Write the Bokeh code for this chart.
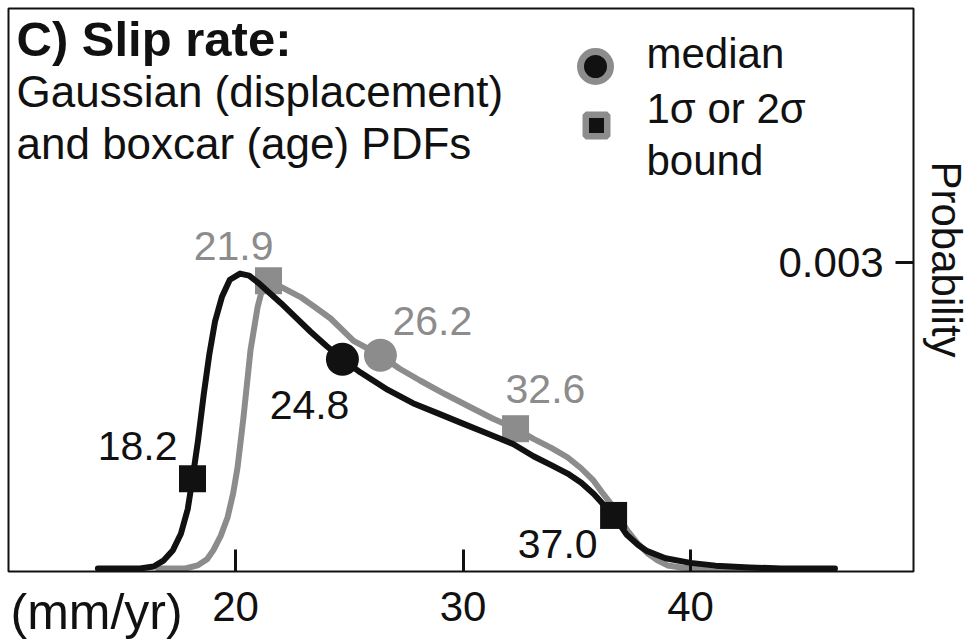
import numpy as np
from bokeh.plotting import figure
from bokeh.models import ColumnDataSource, FixedTicker, Label, Range1d, BoxAnnotation
from bokeh.core.properties import value
from bokeh.embed import file_html
from bokeh.resources import INLINE

# ---- data (probability in units of 1e-3) ----
black_x = [13.95, 15.8, 16.4, 16.85, 17.25, 17.6, 17.9, 18.11, 18.35, 18.6, 18.85, 19.1, 19.4,
           19.75, 20.2, 20.6, 21.0, 21.5, 22.0, 22.6, 23.3, 24.0, 24.7, 25.5, 26.7, 27.8,
           28.9, 30.0, 31.1, 32.2, 33.1, 33.9, 34.6, 35.2, 35.75, 36.2, 36.62, 37.2, 37.7,
           38.1, 38.9, 40.0, 41.1, 42.6, 44.0, 46.35]
black_y = [0.0, 0.0, 0.02, 0.08, 0.18, 0.34, 0.58, 0.88, 1.25, 1.70, 2.10, 2.42, 2.66,
           2.83, 2.89, 2.87, 2.80, 2.70, 2.60, 2.47, 2.32, 2.18, 2.05, 1.92, 1.75, 1.62,
           1.52, 1.42, 1.32, 1.22, 1.10, 1.01, 0.93, 0.84, 0.73, 0.62, 0.52, 0.33, 0.23,
           0.17, 0.10, 0.055, 0.028, 0.01, 0.0, 0.0]
gray_x = [16.6, 17.8, 18.33, 18.75, 19.03, 19.35, 19.65, 19.9, 20.09, 20.35, 20.66, 20.97,
          21.2, 21.45, 22.0, 22.86, 23.5, 24.18, 25.19, 26.37, 27.2, 28.13, 29.2, 30.33,
          31.3, 32.31, 33.1, 33.9, 34.59, 35.2, 35.74, 36.1, 36.48, 36.85, 37.23, 37.7,
          38.11, 38.55, 38.99, 39.6, 40.44, 43.5]
gray_y = [0.0, 0.0, 0.03, 0.09, 0.18, 0.32, 0.50, 0.74, 0.99, 1.48, 2.14, 2.56,
          2.76, 2.82, 2.76, 2.66, 2.56, 2.45, 2.23, 2.09, 1.96, 1.84, 1.71, 1.58,
          1.47, 1.37, 1.27, 1.18, 1.09, 0.98, 0.86, 0.75, 0.64, 0.50, 0.37, 0.24,
          0.15, 0.08, 0.03, 0.01, 0.0, 0.0]

black_bound_x = [18.11, 36.62]
black_bound_lbl = ["18.2", "37.0"]
black_median_x = [24.7]
black_median_lbl = ["24.8"]
gray_bound_x = [21.45, 32.31]
gray_bound_lbl = ["21.9", "32.6"]
gray_median_x = [26.37]
gray_median_lbl = ["26.2"]

x_ticks = [20, 30, 40]
x_tick_labels = ["20", "30", "40"]
y_ticks = [0.003]
y_tick_labels = ["0.003"]

SCALE = 1e-3
FONT = "Liberation Sans"
BLACK = "#111111"
GRAY = "#8c8c8c"

# ---- layout: the plot frame fills the whole canvas; the visible box is drawn inside ----
W, H = 979, 641
PX_PER_X = 22.75          # pixels per mm/yr
PX_PER_Y = 1.0 / 9.8e-6   # pixels per probability unit
X_AT_PX0 = 20 - 235 / PX_PER_X
Y_AT_PY0 = 568 / PX_PER_Y


def fx(px):
    return X_AT_PX0 + px / PX_PER_X


def fy(py):
    return Y_AT_PY0 - py / PX_PER_Y


BOX_L, BOX_R, BOX_T, BOX_B = 8, 913, 8, 571

p = figure(width=W, height=H, output_backend="svg", toolbar_location=None,
           x_range=Range1d(fx(0), fx(W)), y_range=Range1d(fy(H), fy(0)),
           y_axis_location="right",
           min_border_left=0, min_border_top=0, min_border_right=0, min_border_bottom=0)
p.grid.visible = False
p.outline_line_color = None
p.background_fill_color = "white"
p.border_fill_color = "white"

p.add_layout(BoxAnnotation(left=fx(BOX_L), right=fx(BOX_R), top=fy(BOX_T), bottom=fy(BOX_B),
                           fill_alpha=0, fill_color=None, line_color=BLACK, line_alpha=1.0,
                           line_width=2))

xa = p.xaxis[0]
xa.fixed_location = fy(BOX_B)
xa.ticker = FixedTicker(ticks=x_ticks)
xa.major_label_overrides = {t: l for t, l in zip(x_ticks, x_tick_labels)}
xa.major_tick_in = 22
xa.major_tick_out = 0
xa.minor_tick_in = 0
xa.minor_tick_out = 0
xa.major_tick_line_width = 3
xa.major_tick_line_color = BLACK
xa.axis_line_color = None
xa.major_label_standoff = 20
xa.major_label_text_font = FONT
xa.major_label_text_font_size = "42px"
xa.major_label_text_color = BLACK

ya = p.yaxis[0]
ya.fixed_location = fx(BOX_R)
ya.ticker = FixedTicker(ticks=y_ticks)
ya.major_label_overrides = {t: l for t, l in zip(y_ticks, y_tick_labels)}
ya.major_tick_in = 18
ya.major_tick_out = 0
ya.minor_tick_in = 0
ya.minor_tick_out = 0
ya.major_tick_line_width = 3
ya.major_tick_line_color = BLACK
ya.axis_line_color = None
ya.major_label_standoff = -135
ya.major_label_text_font = FONT
ya.major_label_text_font_size = "42px"
ya.major_label_text_color = BLACK

by = [v * SCALE for v in black_y]
gy = [v * SCALE for v in gray_y]


def on_curve(xs, cx, cy):
    return [float(np.interp(x, cx, cy)) for x in xs]


gb_y = on_curve(gray_bound_x, gray_x, gy)
gm_y = on_curve(gray_median_x, gray_x, gy)
bb_y = on_curve(black_bound_x, black_x, by)
bm_y = on_curve(black_median_x, black_x, by)

p.line(gray_x, gy, line_color=GRAY, line_width=6, line_join="round", line_cap="round")
p.scatter(gray_bound_x, gb_y, marker="square", size=27, fill_color=GRAY, line_color=None)
p.scatter(gray_median_x, gm_y, marker="circle", size=33, fill_color=GRAY, line_color=None)

p.line(black_x, by, line_color=BLACK, line_width=6, line_join="round", line_cap="round")
p.scatter(black_bound_x, bb_y, marker="square", size=27, fill_color=BLACK, line_color=None)
p.scatter(black_median_x, bm_y, marker="circle", size=33, fill_color=BLACK, line_color=None)

VFS = 41  # value label font size


def lab(xs, ys, texts, color, align, dx, dy_base):
    # dy_base: pixel offset of the text baseline below the marker; convert to middle anchor
    dy = [d - 0.35 * VFS for d in dy_base]
    src = ColumnDataSource(dict(x=xs, y=ys, t=texts, dx=dx, dy=dy))
    p.text(x="x", y="y", text="t", x_offset="dx", y_offset="dy", source=src,
           text_align=align, text_baseline="middle", text_color=color,
           text_font=value(FONT), text_font_size=value(f"{VFS}px"))


lab(black_bound_x, bb_y, black_bound_lbl, BLACK, "right", [-15, -16], [-18, 43])
lab(black_median_x, bm_y, black_median_lbl, BLACK, "right", [7], [60])
lab(gray_bound_x[:1], gb_y[:1], gray_bound_lbl[:1], GRAY, "right", [5], [-20])
lab(gray_bound_x[1:], gb_y[1:], gray_bound_lbl[1:], GRAY, "left", [-10], [-25])
lab(gray_median_x, gm_y, gray_median_lbl, GRAY, "left", [12], [-20])


def slabel(text, px, baseline_py, fs, style="normal", align="left", angle=0.0):
    mid = baseline_py - 0.35 * fs
    p.add_layout(Label(x=px, y=H - mid, x_units="screen", y_units="screen", text=text,
                       text_font=FONT, text_font_size=f"{fs}px", text_font_style=style,
                       text_color=BLACK, text_align=align, text_baseline="middle",
                       angle=angle))


slabel("C) Slip rate:", 16, 56, 49, style="bold")
slabel("Gaussian (displacement)", 16, 106, 44)
slabel("and boxcar (age) PDFs", 16, 158, 44)
slabel("median", 646, 68, 42)
slabel("1σ or 2σ", 646, 123, 42)
slabel("bound", 646, 175, 42)
slabel("(mm/yr)", 10, 629, 50)
p.add_layout(Label(x=946, y=H - 259, x_units="screen", y_units="screen", text="Probability",
                   text_font=FONT, text_font_size="42px", text_color=BLACK,
                   text_align="center", text_baseline="middle", angle=-np.pi / 2))

# legend keys
p.scatter([fx(595)], [fy(66)], marker="circle", size=30,
          fill_color=BLACK, line_color=GRAY, line_width=7)
p.scatter([fx(596)], [fy(125)], marker="square", size=21.5,
          fill_color=BLACK, line_color=GRAY, line_width=6.5)

open("out.html", "w").write(file_html(p, INLINE))
